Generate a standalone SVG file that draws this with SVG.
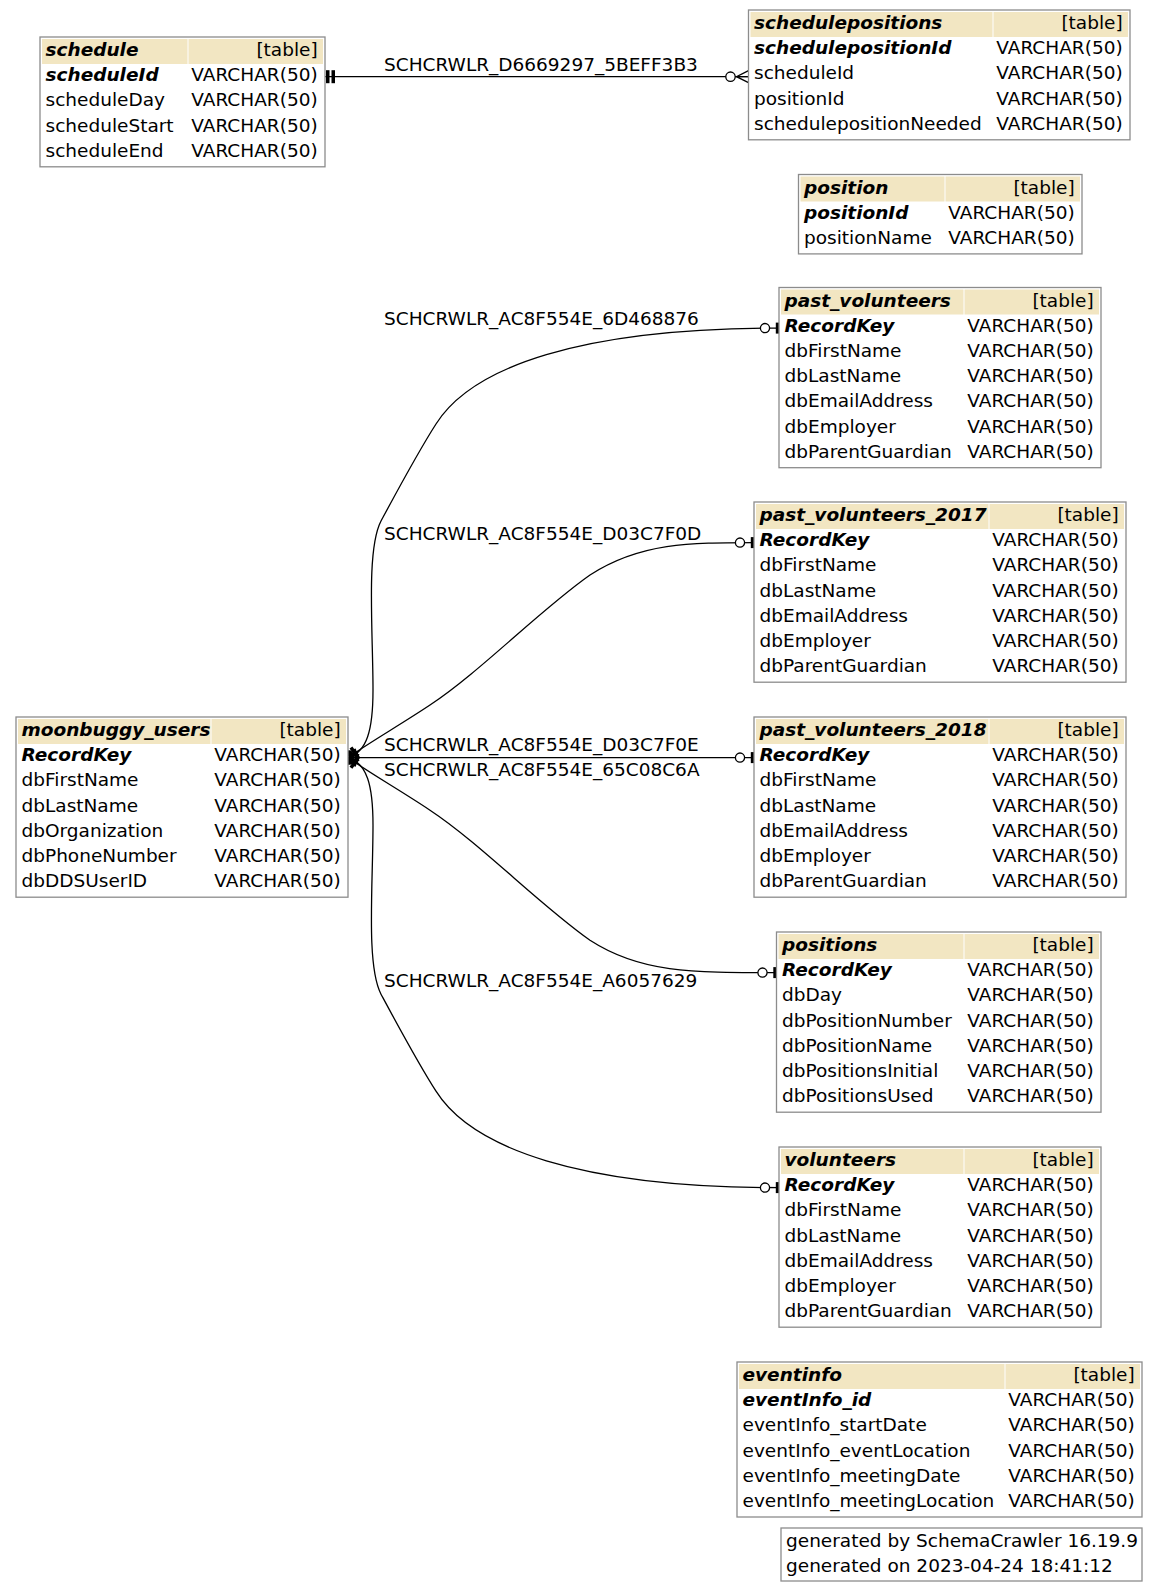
<svg xmlns="http://www.w3.org/2000/svg" width="1159" height="1591" viewBox="0 0 1159 1591">
<style>
text{font-family:"DejaVu Sans","Liberation Sans",sans-serif;font-size:18.5px;fill:#000}
.k{font-weight:bold;font-style:italic}
.r{text-anchor:end}
.box{fill:#fff;stroke:#8c8c8c;stroke-width:1.3}
.hd{fill:#F2E6C2}
.e{fill:none;stroke:#000;stroke-width:1.3}
</style>
<defs>
<marker id="tt" markerUnits="userSpaceOnUse" orient="auto" markerWidth="24" markerHeight="24" viewBox="-12 -12 24 24" refX="0" refY="0" overflow="visible">
<rect x="1" y="-6.5" width="3.5" height="13" fill="#000"/>
<rect x="6.5" y="-6.5" width="3.5" height="13" fill="#000"/>
</marker>
<marker id="ob" markerUnits="userSpaceOnUse" orient="auto" markerWidth="24" markerHeight="24" viewBox="-24 -12 24 24" refX="0" refY="0" overflow="visible">
<rect x="-3.2" y="-5.5" width="3.2" height="11" fill="#000"/>
<circle cx="-14" cy="0" r="4.6" fill="#fff" stroke="#000" stroke-width="1.3"/>
</marker>
<marker id="oc" markerUnits="userSpaceOnUse" orient="auto" markerWidth="28" markerHeight="24" viewBox="-28 -12 28 24" refX="0" refY="0" overflow="visible">
<path d="M0,-6 L-12,0 L0,6 M-12,0 L0,0" fill="none" stroke="#000" stroke-width="1.3"/>
<circle cx="-18" cy="0" r="4.7" fill="#fff" stroke="#000" stroke-width="1.3"/>
</marker>
</defs>
<rect width="1159" height="1591" fill="#fff"/>

<g id="connectors">
<path class="e" d="M325,76.7 L748.5,76.7" marker-start="url(#tt)" marker-end="url(#oc)"/>
<text x="384" y="70.5">SCHCRWLR_D6669297_5BEFF3B3</text>
<path class="e" d="M348,757.6 C367,752 373,730 373,690 C373,630 366,550 381,521 C395,495 418,452 436,424 C472,367 580,328.1 779,328.1" marker-start="url(#tt)" marker-end="url(#ob)"/>
<text x="384" y="324.5">SCHCRWLR_AC8F554E_6D468876</text>
<path class="e" d="M348,757.6 C370,742 400,725 430,705 C480,672 540,610 590,575 C640,542.6 690,542.6 754,542.6" marker-start="url(#tt)" marker-end="url(#ob)"/>
<text x="384" y="540">SCHCRWLR_AC8F554E_D03C7F0D</text>
<path class="e" d="M348,757.6 L754,757.6" marker-start="url(#tt)" marker-end="url(#ob)"/>
<text x="384" y="751">SCHCRWLR_AC8F554E_D03C7F0E</text>
<path class="e" d="M348,757.6 C370,773.2 400,790.2 430,810.2 C480,843.2 540,905.2 590,940.2 C640,972.6 690,972.6 776.5,972.6" marker-start="url(#tt)" marker-end="url(#ob)"/>
<text x="384" y="776">SCHCRWLR_AC8F554E_65C08C6A</text>
<path class="e" d="M348,757.6 C367,763.2 373,785.2 373,825.2 C373,885.2 366,965.2 381,994.2 C395,1020.2 418,1063.2 436,1091.2 C472,1148.2 580,1187.6 779,1187.6" marker-start="url(#tt)" marker-end="url(#ob)"/>
<text x="384" y="986.5">SCHCRWLR_AC8F554E_A6057629</text>
</g>

<g id="schedule">
<rect class="box" x="40" y="37" width="285" height="129.8"/>
<rect class="hd" x="42" y="39" width="145.5" height="25"/>
<rect class="hd" x="188.5" y="39" width="134.5" height="25"/>
<text class="k" x="45.5" y="56">schedule</text><text class="r" x="317.7" y="56">[table]</text>
<text class="k" x="45.5" y="81.2">scheduleId</text><text class="r" x="317.7" y="81.2">VARCHAR(50)</text>
<text x="45.5" y="106.4">scheduleDay</text><text class="r" x="317.7" y="106.4">VARCHAR(50)</text>
<text x="45.5" y="131.6">scheduleStart</text><text class="r" x="317.7" y="131.6">VARCHAR(50)</text>
<text x="45.5" y="156.8">scheduleEnd</text><text class="r" x="317.7" y="156.8">VARCHAR(50)</text>
</g>

<g id="schedulepositions">
<rect class="box" x="748.5" y="10" width="381.5" height="129.8"/>
<rect class="hd" x="750.5" y="12" width="242" height="25"/>
<rect class="hd" x="993.5" y="12" width="134.5" height="25"/>
<text class="k" x="754" y="29">schedulepositions</text><text class="r" x="1122.7" y="29">[table]</text>
<text class="k" x="754" y="54.2">schedulepositionId</text><text class="r" x="1122.7" y="54.2">VARCHAR(50)</text>
<text x="754" y="79.4">scheduleId</text><text class="r" x="1122.7" y="79.4">VARCHAR(50)</text>
<text x="754" y="104.6">positionId</text><text class="r" x="1122.7" y="104.6">VARCHAR(50)</text>
<text x="754" y="129.8">schedulepositionNeeded</text><text class="r" x="1122.7" y="129.8">VARCHAR(50)</text>
</g>

<g id="position">
<rect class="box" x="798.5" y="174.5" width="283.5" height="79.4"/>
<rect class="hd" x="800.5" y="176.5" width="144" height="25"/>
<rect class="hd" x="945.5" y="176.5" width="134.5" height="25"/>
<text class="k" x="804" y="193.5">position</text><text class="r" x="1074.7" y="193.5">[table]</text>
<text class="k" x="804" y="218.7">positionId</text><text class="r" x="1074.7" y="218.7">VARCHAR(50)</text>
<text x="804" y="243.9">positionName</text><text class="r" x="1074.7" y="243.9">VARCHAR(50)</text>
</g>

<g id="past_volunteers">
<rect class="box" x="779" y="287.5" width="322" height="180.2"/>
<rect class="hd" x="781" y="289.5" width="182.5" height="25"/>
<rect class="hd" x="964.5" y="289.5" width="134.5" height="25"/>
<text class="k" x="784.5" y="306.5">past_volunteers</text><text class="r" x="1093.7" y="306.5">[table]</text>
<text class="k" x="784.5" y="331.7">RecordKey</text><text class="r" x="1093.7" y="331.7">VARCHAR(50)</text>
<text x="784.5" y="356.9">dbFirstName</text><text class="r" x="1093.7" y="356.9">VARCHAR(50)</text>
<text x="784.5" y="382.1">dbLastName</text><text class="r" x="1093.7" y="382.1">VARCHAR(50)</text>
<text x="784.5" y="407.3">dbEmailAddress</text><text class="r" x="1093.7" y="407.3">VARCHAR(50)</text>
<text x="784.5" y="432.5">dbEmployer</text><text class="r" x="1093.7" y="432.5">VARCHAR(50)</text>
<text x="784.5" y="457.7">dbParentGuardian</text><text class="r" x="1093.7" y="457.7">VARCHAR(50)</text>
</g>

<g id="past_volunteers_2017">
<rect class="box" x="754" y="502" width="372" height="180.2"/>
<rect class="hd" x="756" y="504" width="232.5" height="25"/>
<rect class="hd" x="989.5" y="504" width="134.5" height="25"/>
<text class="k" x="759.5" y="521">past_volunteers_2017</text><text class="r" x="1118.7" y="521">[table]</text>
<text class="k" x="759.5" y="546.2">RecordKey</text><text class="r" x="1118.7" y="546.2">VARCHAR(50)</text>
<text x="759.5" y="571.4">dbFirstName</text><text class="r" x="1118.7" y="571.4">VARCHAR(50)</text>
<text x="759.5" y="596.6">dbLastName</text><text class="r" x="1118.7" y="596.6">VARCHAR(50)</text>
<text x="759.5" y="621.8">dbEmailAddress</text><text class="r" x="1118.7" y="621.8">VARCHAR(50)</text>
<text x="759.5" y="647">dbEmployer</text><text class="r" x="1118.7" y="647">VARCHAR(50)</text>
<text x="759.5" y="672.2">dbParentGuardian</text><text class="r" x="1118.7" y="672.2">VARCHAR(50)</text>
</g>

<g id="past_volunteers_2018">
<rect class="box" x="754" y="717" width="372" height="180.2"/>
<rect class="hd" x="756" y="719" width="232.5" height="25"/>
<rect class="hd" x="989.5" y="719" width="134.5" height="25"/>
<text class="k" x="759.5" y="736">past_volunteers_2018</text><text class="r" x="1118.7" y="736">[table]</text>
<text class="k" x="759.5" y="761.2">RecordKey</text><text class="r" x="1118.7" y="761.2">VARCHAR(50)</text>
<text x="759.5" y="786.4">dbFirstName</text><text class="r" x="1118.7" y="786.4">VARCHAR(50)</text>
<text x="759.5" y="811.6">dbLastName</text><text class="r" x="1118.7" y="811.6">VARCHAR(50)</text>
<text x="759.5" y="836.8">dbEmailAddress</text><text class="r" x="1118.7" y="836.8">VARCHAR(50)</text>
<text x="759.5" y="862">dbEmployer</text><text class="r" x="1118.7" y="862">VARCHAR(50)</text>
<text x="759.5" y="887.2">dbParentGuardian</text><text class="r" x="1118.7" y="887.2">VARCHAR(50)</text>
</g>

<g id="positions">
<rect class="box" x="776.5" y="932" width="324.5" height="180.2"/>
<rect class="hd" x="778.5" y="934" width="185" height="25"/>
<rect class="hd" x="964.5" y="934" width="134.5" height="25"/>
<text class="k" x="782" y="951">positions</text><text class="r" x="1093.7" y="951">[table]</text>
<text class="k" x="782" y="976.2">RecordKey</text><text class="r" x="1093.7" y="976.2">VARCHAR(50)</text>
<text x="782" y="1001.4">dbDay</text><text class="r" x="1093.7" y="1001.4">VARCHAR(50)</text>
<text x="782" y="1026.6">dbPositionNumber</text><text class="r" x="1093.7" y="1026.6">VARCHAR(50)</text>
<text x="782" y="1051.8">dbPositionName</text><text class="r" x="1093.7" y="1051.8">VARCHAR(50)</text>
<text x="782" y="1077">dbPositionsInitial</text><text class="r" x="1093.7" y="1077">VARCHAR(50)</text>
<text x="782" y="1102.2">dbPositionsUsed</text><text class="r" x="1093.7" y="1102.2">VARCHAR(50)</text>
</g>

<g id="volunteers">
<rect class="box" x="779" y="1147" width="322" height="180.2"/>
<rect class="hd" x="781" y="1149" width="182.5" height="25"/>
<rect class="hd" x="964.5" y="1149" width="134.5" height="25"/>
<text class="k" x="784.5" y="1166">volunteers</text><text class="r" x="1093.7" y="1166">[table]</text>
<text class="k" x="784.5" y="1191.2">RecordKey</text><text class="r" x="1093.7" y="1191.2">VARCHAR(50)</text>
<text x="784.5" y="1216.4">dbFirstName</text><text class="r" x="1093.7" y="1216.4">VARCHAR(50)</text>
<text x="784.5" y="1241.6">dbLastName</text><text class="r" x="1093.7" y="1241.6">VARCHAR(50)</text>
<text x="784.5" y="1266.8">dbEmailAddress</text><text class="r" x="1093.7" y="1266.8">VARCHAR(50)</text>
<text x="784.5" y="1292">dbEmployer</text><text class="r" x="1093.7" y="1292">VARCHAR(50)</text>
<text x="784.5" y="1317.2">dbParentGuardian</text><text class="r" x="1093.7" y="1317.2">VARCHAR(50)</text>
</g>

<g id="eventinfo">
<rect class="box" x="737" y="1362" width="405" height="155"/>
<rect class="hd" x="739" y="1364" width="265.5" height="25"/>
<rect class="hd" x="1005.5" y="1364" width="134.5" height="25"/>
<text class="k" x="742.5" y="1381">eventinfo</text><text class="r" x="1134.7" y="1381">[table]</text>
<text class="k" x="742.5" y="1406.2">eventInfo_id</text><text class="r" x="1134.7" y="1406.2">VARCHAR(50)</text>
<text x="742.5" y="1431.4">eventInfo_startDate</text><text class="r" x="1134.7" y="1431.4">VARCHAR(50)</text>
<text x="742.5" y="1456.6">eventInfo_eventLocation</text><text class="r" x="1134.7" y="1456.6">VARCHAR(50)</text>
<text x="742.5" y="1481.8">eventInfo_meetingDate</text><text class="r" x="1134.7" y="1481.8">VARCHAR(50)</text>
<text x="742.5" y="1507">eventInfo_meetingLocation</text><text class="r" x="1134.7" y="1507">VARCHAR(50)</text>
</g>

<g id="moonbuggy_users">
<rect class="box" x="16" y="717" width="332" height="180.2"/>
<rect class="hd" x="18" y="719" width="192.5" height="25"/>
<rect class="hd" x="211.5" y="719" width="134.5" height="25"/>
<text class="k" x="21.5" y="736">moonbuggy_users</text><text class="r" x="340.7" y="736">[table]</text>
<text class="k" x="21.5" y="761.2">RecordKey</text><text class="r" x="340.7" y="761.2">VARCHAR(50)</text>
<text x="21.5" y="786.4">dbFirstName</text><text class="r" x="340.7" y="786.4">VARCHAR(50)</text>
<text x="21.5" y="811.6">dbLastName</text><text class="r" x="340.7" y="811.6">VARCHAR(50)</text>
<text x="21.5" y="836.8">dbOrganization</text><text class="r" x="340.7" y="836.8">VARCHAR(50)</text>
<text x="21.5" y="862">dbPhoneNumber</text><text class="r" x="340.7" y="862">VARCHAR(50)</text>
<text x="21.5" y="887.2">dbDDSUserID</text><text class="r" x="340.7" y="887.2">VARCHAR(50)</text>
</g>

<g id="footer">
<rect class="box" x="781" y="1528" width="361" height="53"/>
<text x="786" y="1547">generated by SchemaCrawler 16.19.9</text>
<text x="786" y="1572">generated on 2023-04-24 18:41:12</text>
</g>
</svg>
